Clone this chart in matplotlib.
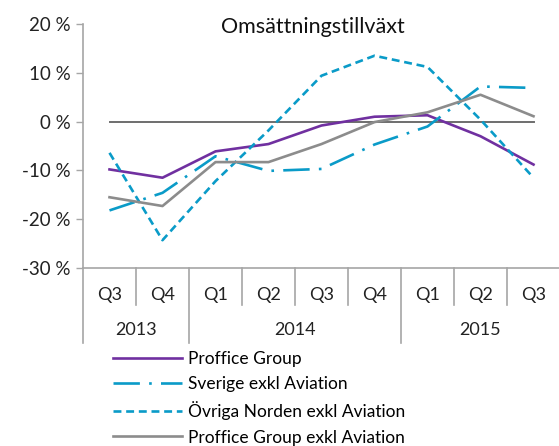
import numpy as np
import matplotlib
matplotlib.use("Agg")
import matplotlib.pyplot as plt
from matplotlib.transforms import blended_transform_factory

plt.rcParams['font.family'] = ['Lato', 'DejaVu Sans']

quarters = ["Q3", "Q4", "Q1", "Q2", "Q3", "Q4", "Q1", "Q2", "Q3"]
years = ["2013", "2014", "2015"]
year_span = [(0, 1), (2, 5), (6, 8)]

proffice = [-9.8, -11.5, -6.1, -4.6, -0.8, 1.0, 1.3, -3.0, -8.8]
sverige = [-18.2, -14.6, -7.1, -10.1, -9.7, -4.7, -1.0, 7.2, 6.9]
ovriga = [-6.4, -24.3, -12.2, -1.8, 9.4, 13.5, 11.2, 0.4, -11.5]
proffice_exkl = [-15.5, -17.3, -8.3, -8.3, -4.6, -0.1, 1.9, 5.5, 1.1]
zero_line = [0, 0, 0, 0, 0, 0, 0, 0, 0]

yticks = [20, 10, 0, -10, -20, -30]

purple = "#7030A0"
blue = "#0A9BC8"
gray = "#8C8C8C"
axis_gray = "#A6A6A6"

fig = plt.figure(figsize=(5.59, 4.46), dpi=100)
ax = fig.add_axes([83 / 559, 1 - 268 / 446, 477 / 559, 244 / 446])

x = np.arange(len(quarters))
ax.plot(x, zero_line, color="#6E6E6E", lw=1.4)
h1, = ax.plot(x, proffice, color=purple, lw=1.9, label="Proffice Group")
h2, = ax.plot(x, sverige, color=blue, lw=1.9, dashes=(10, 3.5, 1, 3.5),
              label="Sverige exkl Aviation")
h3, = ax.plot(x, ovriga, color=blue, lw=1.9, dashes=(3, 1.8),
              label="Övriga Norden exkl Aviation")
h4, = ax.plot(x, proffice_exkl, color=gray, lw=1.9,
              label="Proffice Group exkl Aviation")

ax.set_xlim(-0.5, len(quarters) - 0.5)
ax.set_ylim(-30, 20)
ax.set_yticks(yticks)
ax.set_yticklabels([f"{v} %" for v in yticks], fontsize=13.5, color="#222222")
ax.tick_params(axis="y", length=5, width=1, color=axis_gray, pad=4)

ax.set_xticks(x)
ax.set_xticklabels(quarters, fontsize=13, color="#222222")
ax.tick_params(axis="x", length=0, pad=14)

for s in ["top", "right"]:
    ax.spines[s].set_visible(False)
for s in ["left", "bottom"]:
    ax.spines[s].set_color(axis_gray)
    ax.spines[s].set_linewidth(1.2)

# category separators below the axis
trans = blended_transform_factory(ax.transData, ax.transAxes)
long_lines = [-0.5] + [b + 0.5 for _, b in year_span]
for b in np.arange(-0.5, len(quarters)):
    bottom = -0.307 if b in long_lines else -0.152
    ax.plot([b, b], [0, bottom], transform=trans, color=axis_gray, lw=1.2,
            clip_on=False)

for label, (a, b) in zip(years, year_span):
    ax.text((a + b) / 2, -0.255, label, transform=trans, ha="center",
            va="center", fontsize=13, color="#222222")

fig.text(313 / 559, 1 - 27 / 446, "Omsättningstillväxt", ha="center",
         va="center", fontsize=15.5, color="#111111")

fig.legend(handles=[h1, h2, h3, h4], loc="upper left",
           bbox_to_anchor=(113 / 559, 1 - 351 / 446), frameon=False,
           fontsize=12.5, handlelength=4.0, handletextpad=0.3,
           labelspacing=0.53, borderpad=0, borderaxespad=0)

fig.savefig("out.png", dpi=100)
